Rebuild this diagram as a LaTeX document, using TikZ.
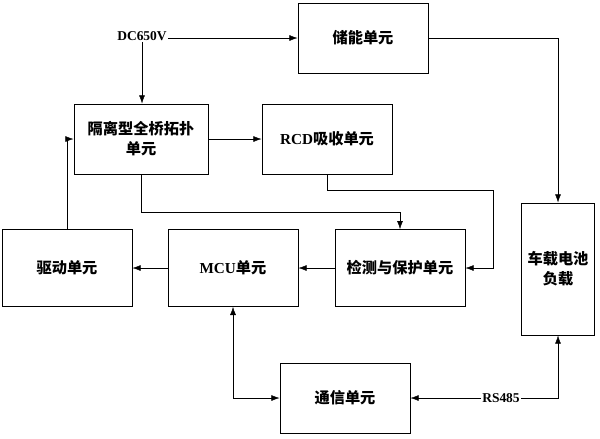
\documentclass[tikz,border=0pt]{standalone}
\usepackage{fontspec}
\setmainfont{Liberation Serif}
\newfontfamily\cjk{Noto Sans CJK SC}
\usetikzlibrary{arrows.meta}
\begin{document}
\begin{tikzpicture}[x=0.03cm,y=-0.03cm,
  box/.style={draw,thick,minimum width=3.9cm,minimum height=2.1cm,align=center,font=\cjk\bfseries\fontsize{13}{17}\selectfont,inner sep=0pt},
  ar/.style={-{Latex[length=7pt,width=5pt]},thin},
  lab/.style={font=\bfseries\fontsize{11.5}{13}\selectfont,inner sep=1pt}]
\useasboundingbox (0,0) rectangle (600,438);
\node[box] (cn) at (363,38) {储能单元};
\node[box,minimum width=4.02cm] (gl) at (141,139) {隔离型全桥拓扑\\单元};
\node[box] (rcd) at (327,139) {{\rmfamily\bfseries RCD}吸收单元};
\node[box,minimum height=2.3cm] (qd) at (67,268) {驱动单元};
\node[box,minimum height=2.3cm] (mcu) at (233,268) {{\rmfamily\bfseries MCU}单元};
\node[box,minimum height=2.3cm] (jc) at (400,268) {检测与保护单元};
\node[box,minimum width=2.2cm,minimum height=3.96cm] (bat) at (558,269) {车载电池\\负载};
\node[box] (tx) at (345,398) {通信单元};
\node[lab] (dc) at (142,36) {DC650V};
\coordinate (j) at (142,38);
\draw[ar] (dc.east |- j) -- (cn.west |- j);
\draw[ar] (dc.south) -- (gl.north -| dc);
\draw[ar] (cn.east) -| (bat.north);
\draw[ar] (gl.east) -- (rcd.west);
\draw[ar] (gl.south) -- ++(0,38) -| (jc.north);
\draw[ar] (rcd.south) -- ++(0,16) -| (493,268) -- (jc.east);
\draw[ar] (jc.west) -- (mcu.west -| mcu.east);
\draw[ar] (mcu.west) -- (qd.east);
\draw[ar] (qd.north) |- (gl.west);
\draw[{Latex[length=7pt,width=5pt]}-{Latex[length=7pt,width=5pt]},thin] (mcu.south) |- (tx.west);
\draw[{Latex[length=7pt,width=5pt]}-{Latex[length=7pt,width=5pt]},thin] (tx.east) -| (bat.south);
\node[lab,fill=white] (rs) at (501,398) {RS485};
\end{tikzpicture}
\end{document}
